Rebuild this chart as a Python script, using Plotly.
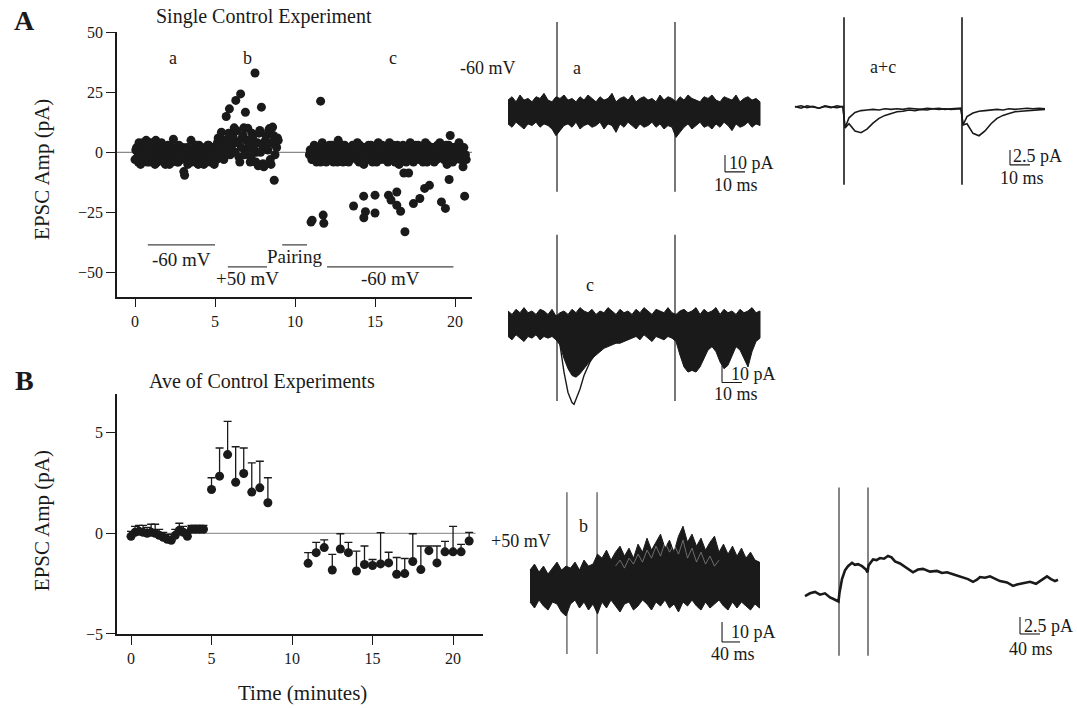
import plotly.graph_objects as go

# ---------------- DATA ----------------
# Panel A: single control experiment (time in minutes, EPSC amplitude in pA)
pre_start, pre_step = 0.0, 0.1
amp_pre = [-3, 2, -4, 3, -1, 4, -3, 5, 0, -4, 4, 1, -2, 5, -4, 3, 0, -3, 2, -5,
           1, -2, 3, -4, 5.5, -1, 2, -4, 0, -3, 2, -9.5, -1, -5, 1, 5, -2, 2, -4, 0,
           3, -3, 1, -5, 2, -1, 3, -4, 1, -2]
amp_pre2 = [1, -2, 4, -5, 2, -1, 3, -4, 4, 1, -2, 3, -5, 0, 2, -3, 4, -1, -4, 0,
            3, -5, -1, 2, -3, 1, -4, 3, -2, 1, -8, 0, 2, -3, -1, -4, 2, -1, 3, -5,
            0, 2, -3, 1, -4, 3, 0, -2, 2, -5]
pair_start = 5.0
amp_pair = [2, -3, 6, 0, 8.4, 3, -1, 14.9, 5, 18.1, 2, 7, 10.2, 21.6, 4, -2, 24.3, 6, 10.2, 16.7,
            1, 5, -4, 8, 3, 33, 0, -5.6, 9.1, 18.8, -4.7, 4, 7, 1, 9.9, -5, 10.5, -11.6, 3, 6]
amp_pair2 = [0, 4, -2, 6, 2, -3, 5, 1, 8, -1, 3, 6, 0, 9, 4, -4, 2, 7, -1, 5,
             10, 3, -2, 6, 1, -4, 4, 8, 0, 3, -6, 5, 2, 9, -3, 4, 7, -1, 2, 5]
post_start = 10.9
amp_post = [-1, 1, -3, 3, 0, -2, 2, -4,
            4, -1, 2, -3, 1, -2, 3, -4, 0, 2,
            5, -2, 1, -4, 3, -1, 2, -3, 0, 3,
            -2, 1, 4, -4, 0, 2, -5, 1, -2, 3,
            -1, 2, -3, 1, -4, 4, 0, -2, 2, -3,
            1, -4, 4, -1, 2, -3, 0, 3, -5, 1,
            -2, -8.6, 2, -3, 1, 4, -1, -4, 2, 0,
            3, -2, 1, -4, 2, -1, 3, -3, 0, 2,
            -4, 1, 3, -2, 0, 2, -3, 1, -5, 3,
            7, -1, 2, -3, 0, 3, -2, 1, -6, -1, -3]
amp_post2 = [1, -3, 0, 2, -4, 1, -1, 3,
             -2, 0, -4, 1, 3, -3, 0, -1, 2, -4,
             1, -3, 3, 0, -2, 2, -4, 1, -1, 0,
             2, -3, 0, 3, -1, -4, 2, 0, -3, 1,
             3, -4, 0, 2, -2, 1, -3, 3, -1, 0,
             -2, 2, -3, 1, 3, -4, 0, -2, 2, -1,
             3, -1, -4, 0, 2, -2, 1, -3, 3, -1,
             -3, 2, 0, -2, 4, -4, 1, 2, -1, -3,
             2, -3, 0, 4, -2, 1, -1, 3, 0, -2,
             1, -4, 2, 0, -2, 4, -3, 0, 2, -1]
t_dep = [11.0, 11.07, 11.76, 11.8, 13.66, 14.29, 14.4, 14.3, 15.0, 15.0, 15.84, 16.0, 16.36,
         16.36, 16.6, 16.87, 17.4, 17.8, 18.1, 18.4, 19.15, 19.4, 19.63, 20.6, 11.6, 17.1]
amp_dep = [-29, -28.2, -26.1, -29.5, -22.3, -18.2, -24.7, -27.2, -17.8, -25.2, -17.8, -19.8, -16.5,
           -22, -24.5, -33, -21.3, -19.2, -15, -13.7, -20.6, -23.3, -11.3, -18.2, 21.3, -8.6]

# Panel B: average of control experiments (mean and upper error)
t_avg = [0, 0.25, 0.5, 0.75, 1, 1.25, 1.5, 1.75, 2, 2.25, 2.5, 2.75, 3, 3.25, 3.5, 3.75, 4, 4.25, 4.5,
         5, 5.5, 6, 6.5, 7, 7.5, 8, 8.5,
         11, 11.5, 12, 12.5, 13, 13.5, 14, 14.5, 15, 15.5, 16, 16.5, 17, 17.5, 18, 18.5, 19, 19.5,
         20, 20.5, 21]
amp_avg = [-0.15, 0.05, 0.1, 0.05, 0.0, 0.05, 0.0, -0.1, -0.2, -0.3, -0.35, -0.1, 0.15, 0.05,
           -0.15, 0.2, 0.2, 0.2, 0.2,
           2.18, 2.84, 3.91, 2.54, 2.97, 2.05, 2.26, 1.52,
           -1.49, -0.96, -0.71, -1.82, -0.78, -0.96, -1.87, -1.55, -1.6, -1.52, -1.47, -2.03, -2.0,
           -1.4, -1.8, -0.86, -1.47, -0.92, -0.92, -0.92, -0.38]
err_avg = [0.25, 0.3, 0.3, 0.35, 0.3, 0.4, 0.45, 0.3, 0.25, 0.25, 0.3, 0.3, 0.35, 0.3, 0.3, 0.2,
           0.2, 0.2, 0.2,
           0.58, 1.4, 1.65, 1.76, 1.27, 1.45, 1.32, 1.24,
           0.53, 0.51, 0.38, 0.77, 0.76, 0.51, 0.99, 0.92, 0.3, 1.55, 0.53, 0.83, 0.75, 1.38, 1.17,
           0.23, 0.84, 0.52, 1.27, 0.37, 0.43]

# Trace 'a' (-60 mV; ms / pA): envelope of overlaid sweeps, sampled every 2 ms
t_a = list(range(0, 127, 2))
up_a = [7, 9, 6, 10, 7, 8, 6, 9, 8, 11, 7, 6, 9, 8, 10, 7, 8, 6, 9, 7,
        10, 8, 6, 9, 7, 8, 11, 6, 8, 9, 7, 10, 6, 8, 9, 7, 8, 6, 10, 7,
        9, 8, 6, 9, 7, 10, 8, 7, 6, 9, 8, 10, 7, 6, 9, 8, 7, 10, 6, 8, 9, 7, 8, 6]
lo_a = [-7, -9, -6, -8, -10, -7, -8, -6, -9, -7, -8, -10, -14, -11, -8, -7, -9, -6, -10, -8,
        -7, -9, -8, -6, -10, -7, -8, -12, -7, -9, -6, -8, -10, -7, -9, -8, -6, -9, -7, -10,
        -8, -9, -15, -12, -9, -7, -10, -8, -6, -9, -8, -10, -7, -9, -6, -8, -11, -7, -9, -8,
        -6, -9, -7, -8]
art_a = [24.5, 83.5]
# Trace 'c'
t_c = list(range(0, 127, 2))
up_c = [8, 6, 9, 7, 10, 7, 8, 6, 9, 8, 6, 9, 5, 7, 8, 6, 9, 7, 10, 8,
        7, 9, 6, 8, 7, 10, 8, 6, 9, 7, 8, 6, 9, 7, 10, 8, 6, 9, 8, 7,
        10, 7, 6, 8, 9, 7, 8, 10, 6, 9, 7, 8, 10, 6, 9, 7, 8, 6, 9, 7, 8, 10, 7, 8]
lo_c = [-7, -9, -6, -8, -10, -7, -8, -6, -9, -7, -8, -7,
        -9, -12, -20, -26, -30, -31, -29, -26, -23, -20, -18, -16, -14, -13, -12, -11, -11, -10, -9,
        -8, -7, -9, -6, -8, -10, -7, -8, -9, -7, -8,
        -10, -18, -25, -28, -27, -28, -25, -20, -15, -13, -16, -22, -26, -24, -18, -13, -15, -20,
        -25, -16, -10, -8]
t_cdeep = [24, 26, 28, 30, 32, 33, 34, 36, 38, 41, 45, 50, 55]
amp_cdeep = [0, -12, -28, -40, -46, -47, -44, -38, -30, -22, -15, -10, -7]
# Averages a + c
t_ac = [0, 3, 6, 9, 12, 15, 18, 21, 24, 25, 27, 30, 33, 36, 39, 42, 45, 48, 51, 54, 57, 60, 63, 66,
        69, 72, 75, 78, 81, 83, 84, 86, 89, 92, 95, 98, 101, 104, 107, 110, 113, 116, 119, 122, 125]
amp_ac_a = [0.1, -0.2, 0.2, 0, -0.2, 0.1, -0.1, 0.2, 0, -3.5, -1.8, -0.9, -0.6, -0.5, -0.4, -0.5,
            -0.3, -0.4, -0.3, -0.4, -0.2, -0.3, -0.4, -0.2, -0.3, -0.2, -0.4, -0.3, -0.2, -0.2,
            -3.0, -1.6, -1.0, -0.7, -0.6, -0.5, -0.4, -0.5, -0.3, -0.4, -0.3, -0.2, -0.3, -0.2, -0.3]
amp_ac_c = [0, 0.2, -0.1, 0.1, -0.2, 0.2, 0, -0.1, 0.1, -3.5, -2.8, -4.0, -4.3, -3.7, -2.7, -1.9,
            -1.4, -1.1, -0.8, -0.7, -0.5, -0.6, -0.4, -0.5, -0.3, -0.4, -0.3, -0.4, -0.3, -0.3,
            -3.0, -2.8, -4.4, -4.8, -4.0, -2.8, -1.9, -1.4, -1.1, -0.8, -0.7, -0.6, -0.5, -0.4, -0.4]
# Trace 'b' (+50 mV), sampled every 10 ms
t_b = list(range(0, 511, 10))
up_b = [8, 11, 7, 10, 6, 9, 12, 8, 10,
        9, 12, 8, 13, 10, 11,
        16,
        14, 18, 13, 17, 20, 15, 19, 14, 21, 17,
        24, 18, 22, 26, 19, 23, 17, 25, 30, 22,
        26, 20, 24, 18, 22, 25, 17, 21, 16, 20,
        15, 19, 14, 17, 13, 12]
lo_b = [-8, -11, -7, -10, -12, -8, -9, -13, -15,
        -9, -7, -11, -8, -12, -9,
        -14,
        -8, -11, -7, -10, -13, -9, -8, -12, -10, -7,
        -9, -12, -8, -10, -7, -11, -9, -13, -8, -10,
        -7, -10, -12, -8, -11, -9, -7, -10, -12, -8,
        -11, -8, -10, -12, -9, -11]
t_b_inner = list(range(190, 421, 10))
amp_b_inner = [10, 13, 9, 14, 11, 16, 12, 18, 14, 20, 15, 22, 17, 21, 16, 23, 14, 19, 12, 17,
               11, 15, 10, 13]
art_b = [82, 149]
# Average of b
t_bavg = [0, 10, 20, 30, 40, 50, 56, 64, 67, 69, 74, 80, 86, 94, 100, 106, 114, 122, 125,
          127, 136, 143, 150, 158, 166, 173, 180, 190, 200, 208, 216, 226, 236, 250, 264, 274,
          284, 296, 306, 314, 326, 336, 344, 350, 360, 370, 380, 390, 404, 416, 424, 430, 440,
          450, 462, 472, 484, 492, 500, 506]
amp_bavg = [0, 0.4, 0.6, 0.2, 0.4, -0.2, -0.4, -0.7, -0.8, 0.5, 2.5, 3.8, 4.4, 4.9, 4.6, 4.7, 4.4,
            3.9, 3.5, 4.5, 5.4, 5.3, 5.6, 5.5, 5.9, 5.7, 5.1, 4.8, 4.3, 3.8, 3.5, 3.9, 4.0, 3.6,
            3.7, 3.4, 3.5, 3.2, 3.0, 2.8, 2.5, 2.1, 2.4, 2.8, 2.7, 2.9, 2.6, 2.2, 2.0, 1.5, 1.7,
            1.8, 2.0, 2.1, 1.8, 2.3, 2.9, 2.5, 2.2, 2.4]
art_bavg = [68, 126]

# ---------------- LAYOUT HELPERS ----------------
W, H = 1077, 709
FONT = "Liberation Serif"
INK = "#1a1a1a"
# the photographed page maps paper y -> screen y as  Y0 + YS * y  (measured)
Y0, YS = 7.8, 709 / 725


def px(x):
    return x / W


def py(y):
    return 1 - ((y - Y0) / YS) / H


def grid(start, step, n):
    return [round(start + step * i, 3) for i in range(n)]


fig = go.Figure()

# ---------------- PANEL A ----------------
mk = dict(color=INK, size=9)
for tt, aa in [
    (grid(pre_start, pre_step, len(amp_pre)), amp_pre),
    (grid(pre_start + 0.05, pre_step, len(amp_pre2)), amp_pre2),
    (grid(pair_start, 0.1, len(amp_pair)), amp_pair),
    (grid(pair_start + 0.05, 0.1, len(amp_pair2)), amp_pair2),
    (grid(post_start, 0.1, len(amp_post)), amp_post),
    (grid(post_start + 0.05, 0.1, len(amp_post2)), amp_post2),
    (t_dep, amp_dep),
]:
    fig.add_trace(go.Scatter(x=tt, y=aa, mode="markers", marker=mk, xaxis="x", yaxis="y",
                             showlegend=False, hoverinfo="skip"))

# ---------------- PANEL B ----------------
fig.add_trace(go.Scatter(
    x=t_avg, y=amp_avg, mode="markers", marker=dict(color=INK, size=9),
    error_y=dict(type="data", symmetric=False, array=err_avg, arrayminus=[0] * len(err_avg),
                 color=INK, thickness=1.3, width=4),
    xaxis="x2", yaxis="y2", showlegend=False))

# ---------------- TRACE PANELS ----------------
# (pixel box [x0,x1,y0,y1], origin px (ox, oy), scale px/unit (sx, sy))
panels = {
    "3": ([495, 790, 10, 205], (508, 112), (2.0, 1.7)),    # a
    "4": ([495, 790, 225, 415], (508, 325), (2.0, 1.7)),   # c
    "5": ([790, 1075, 10, 205], (795, 107), (2.0, 6.0)),   # a+c
    "6": ([490, 790, 480, 675], (530, 587), (0.45, 2.0)),  # b
    "7": ([795, 1075, 480, 675], (805, 597), (0.5, 6.8)),  # b avg
}


def band(t, up, lo, ax, color=INK):
    fig.add_trace(go.Scatter(x=list(t) + list(t)[::-1], y=list(up) + list(lo)[::-1],
                             fill="toself", fillcolor=color, mode="lines",
                             line=dict(color=color, width=1.0), xaxis="x" + ax, yaxis="y" + ax,
                             showlegend=False, hoverinfo="skip"))


def line(t, a, ax, color=INK, width=1.5, opacity=1.0):
    fig.add_trace(go.Scatter(x=t, y=a, mode="lines", line=dict(color=color, width=width),
                             opacity=opacity, xaxis="x" + ax, yaxis="y" + ax,
                             showlegend=False, hoverinfo="skip"))


def artifacts(ts, lo, hi, ax, color="#555", width=1.6):
    xs, ys = [], []
    for t in ts:
        xs += [t, t, None]
        ys += [lo, hi, None]
    fig.add_trace(go.Scatter(x=xs, y=ys, mode="lines", line=dict(color=color, width=width),
                             xaxis="x" + ax, yaxis="y" + ax, showlegend=False, hoverinfo="skip"))


artifacts(art_a, -47, 53, "3")
band(t_a, up_a, lo_a, "3")
artifacts(art_a, -45, 53, "4")
band(t_c, up_c, lo_c, "4")
line(t_cdeep, amp_cdeep, "4", width=1.4)
artifacts(art_a, -13, 15, "5", color="#333", width=1.8)
line(t_ac, amp_ac_a, "5", width=1.6)
line(t_ac, amp_ac_c, "5", width=1.6)
artifacts(art_b, -34, 47, "6", color="#777")
band(t_b, up_b, lo_b, "6")
line(t_b_inner, amp_b_inner, "6", color="white", width=0.8, opacity=0.45)
artifacts(art_bavg, -8.8, 16, "7", color="#666")
line(t_bavg, amp_bavg, "7", width=2.6)

# ---------------- AXES ----------------
axstyle = dict(showline=True, linecolor=INK, linewidth=1.5, ticks="outside", ticklen=9,
               tickwidth=1.3, tickcolor=INK, showgrid=False, zeroline=False,
               tickfont=dict(family=FONT, size=16, color=INK))
layout = dict(
    width=W, height=H, margin=dict(l=0, r=0, t=0, b=0, pad=0), autosize=False,
    paper_bgcolor="white", plot_bgcolor="rgba(0,0,0,0)",
    font=dict(family=FONT, color=INK),
    xaxis=dict(domain=[px(117), px(472)], range=[-1.125, 21.06], anchor="y",
               tickvals=[0, 5, 10, 15, 20], **axstyle),
    yaxis=dict(domain=[py(297), py(32)], range=[-60, 50], anchor="x",
               tickvals=[-50, -25, 0, 25, 50], **axstyle),
    xaxis2=dict(domain=[px(117), px(483)], range=[-0.87, 21.86], anchor="y2",
                tickvals=[0, 5, 10, 15, 20], **axstyle),
    yaxis2=dict(domain=[py(635), py(395)], range=[-5, 6.9], anchor="x2",
                tickvals=[-5, 0, 5], **axstyle),
)
for ax, (box, (ox, oy), (sx, sy)) in panels.items():
    x0, x1, y0, y1 = box
    layout["xaxis" + ax] = dict(domain=[px(x0), px(x1)], range=[(x0 - ox) / sx, (x1 - ox) / sx],
                                visible=False, anchor="y" + ax)
    layout["yaxis" + ax] = dict(domain=[py(y1), py(y0)], range=[(oy - y1) / sy, (oy - y0) / sy],
                                visible=False, anchor="x" + ax)
fig.update_layout(**layout)

# zero reference lines
fig.add_shape(type="line", xref="x domain", yref="y", x0=0, x1=1, y0=0, y1=0,
              line=dict(color="#888", width=1.2), layer="below")
fig.add_shape(type="line", xref="x2", yref="y2", x0=0, x1=21.4, y0=0, y1=0,
              line=dict(color="#999", width=1.2), layer="below")

# holding-potential bars in panel A (data units)
for x0, x1, y in [(0.8, 5.0, -38.5), (5.8, 8.25, -47.6), (9.2, 10.75, -38.5), (12.0, 19.9, -47.6)]:
    fig.add_shape(type="line", xref="x", yref="y", x0=x0, x1=x1, y0=y, y1=y,
                  line=dict(color="#444", width=1.3))

# scale bars (in each trace panel's own units)
scalebars = [("3", 108.5, -35.3, 10, 10), ("4", 107, -34.1, 10, 10), ("5", 107.5, -9.67, 10, 2.5),
             ("6", 426.7, -28, 40, 10), ("7", 430, -5.59, 40, 2.5)]
for ax, t0, a0, dt, da in scalebars:
    fig.add_shape(type="line", xref="x" + ax, yref="y" + ax, x0=t0, x1=t0, y0=a0, y1=a0 + da,
                  line=dict(color=INK, width=1.1))
    fig.add_shape(type="line", xref="x" + ax, yref="y" + ax, x0=t0, x1=t0 + dt, y0=a0, y1=a0,
                  line=dict(color=INK, width=1.1))


def txt(text, x, y, size=18, bold=False, angle=0, xanchor="center"):
    fig.add_annotation(text=("<b>%s</b>" % text) if bold else text, x=px(x), y=py(y),
                       xref="paper", yref="paper", showarrow=False, textangle=angle,
                       xanchor=xanchor, yanchor="middle",
                       font=dict(family=FONT, size=size, color=INK))


def dtxt(text, x, y, size=19):
    fig.add_annotation(text=text, x=x, y=y, xref="x", yref="y", showarrow=False,
                       font=dict(family=FONT, size=size, color=INK))


txt("A", 24, 20, size=28, bold=True)
txt("B", 24, 381, size=28, bold=True)
txt("Single Control Experiment", 264, 16, size=20)
txt("Ave of Control Experiments", 262, 382, size=20)
txt("EPSC Amp (pA)", 42, 170, size=21, angle=-90)
txt("EPSC Amp (pA)", 42, 522, size=21, angle=-90)
txt("Time (minutes)", 302, 694, size=21)

dtxt("a", 2.4, 39.4, size=18)
dtxt("b", 7.0, 39.4, size=18)
dtxt("c", 16.1, 39.4, size=18)
dtxt("-60 mV", 2.9, -44.5)
dtxt("+50 mV", 7.05, -52.5)
dtxt("Pairing", 9.95, -43.5)
dtxt("-60 mV", 15.96, -52.5)

txt("-60 mV", 488, 68)
txt("a", 577, 68)
txt("a+c", 883, 67)
txt("c", 590, 285)
txt("b", 583, 527)
txt("+50 mV", 521, 542)

txt("10 pA", 727, 163, xanchor="left")
txt("10 ms", 736, 185)
txt("10 pA", 729, 375, xanchor="left")
txt("10 ms", 736, 395)
txt("2.5 pA", 1011, 156, xanchor="left")
txt("10 ms", 1022, 178)
txt("10 pA", 729, 633, xanchor="left")
txt("40 ms", 733, 655)
txt("2.5 pA", 1022, 627, xanchor="left")
txt("40 ms", 1031, 650)

fig.write_html("out.html", config={"displayModeBar": False},
               post_script="document.body.style.margin='0px';"
                           "document.body.style.overflow='hidden';")
